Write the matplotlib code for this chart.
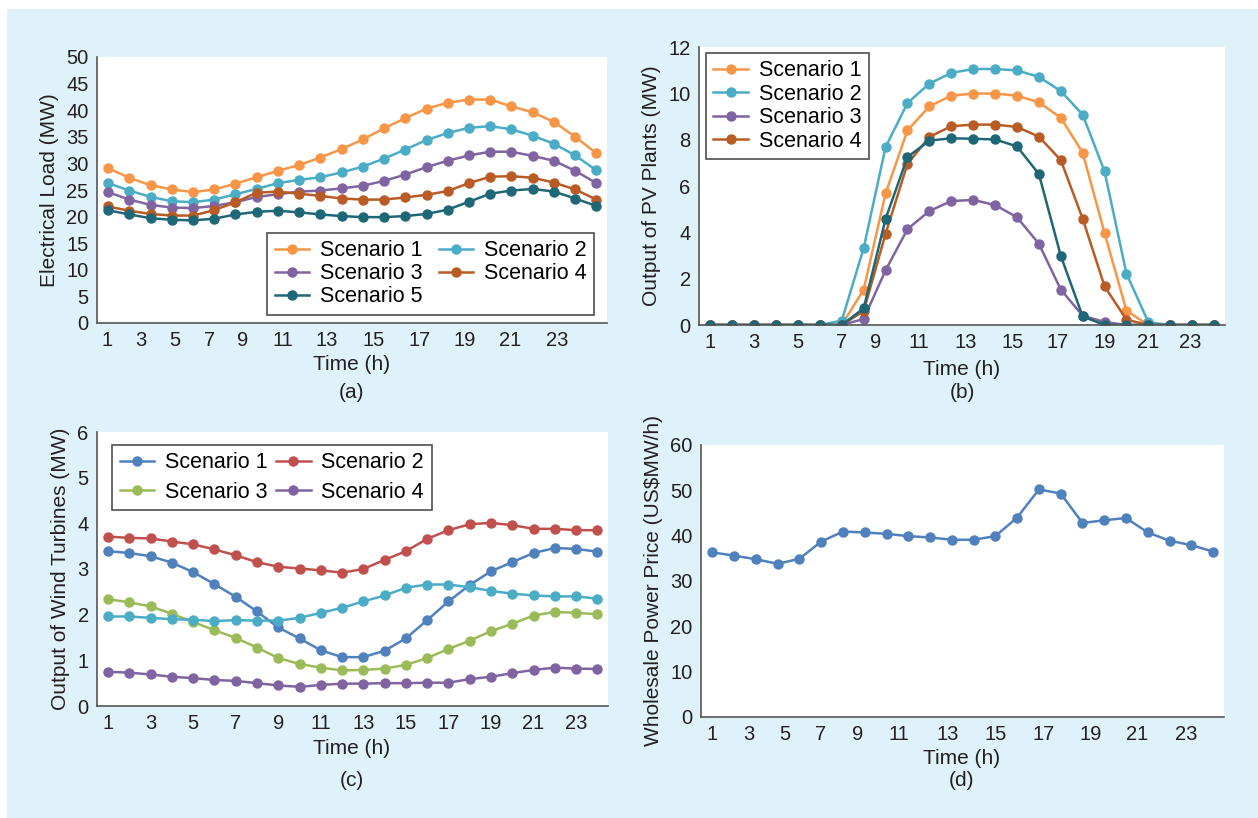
import numpy as np
import matplotlib
matplotlib.use('Agg')
import matplotlib.pyplot as plt
from matplotlib.patches import Rectangle

plt.rcParams['font.family'] = ['Liberation Sans', 'DejaVu Sans']

hours = np.arange(1, 25)

# (a) electrical load, MW
load_s1 = [29.1, 27.3, 25.9, 25.1, 24.6, 25.1, 26.2, 27.4, 28.6, 29.7, 31.1, 32.7,
           34.5, 36.6, 38.5, 40.3, 41.4, 42.0, 42.0, 40.7, 39.6, 37.8, 35.0, 31.9]
load_s2 = [26.3, 24.9, 23.7, 22.9, 22.7, 23.2, 24.2, 25.2, 26.3, 26.9, 27.4, 28.3,
           29.4, 30.9, 32.6, 34.4, 35.7, 36.7, 37.0, 36.4, 35.2, 33.7, 31.5, 28.7]
load_s3 = [24.6, 23.2, 22.2, 21.7, 21.6, 22.0, 22.7, 23.7, 24.2, 24.7, 24.9, 25.3,
           25.8, 26.7, 27.9, 29.3, 30.5, 31.5, 32.2, 32.2, 31.4, 30.5, 28.6, 26.3]
load_s4 = [21.9, 21.1, 20.5, 20.2, 20.2, 21.2, 22.7, 24.5, 24.7, 24.3, 23.9, 23.4,
           23.2, 23.2, 23.6, 24.1, 24.8, 26.3, 27.5, 27.6, 27.3, 26.4, 25.1, 23.2]
load_s5 = [21.2, 20.4, 19.7, 19.4, 19.3, 19.6, 20.4, 20.9, 21.1, 20.8, 20.4, 20.1,
           19.9, 19.9, 20.1, 20.5, 21.3, 22.8, 24.3, 24.9, 25.2, 24.7, 23.4, 22.0]

# (b) PV output, MW
pv_s1 = [0, 0, 0, 0, 0, 0, 0, 1.53, 5.68, 8.40, 9.44, 9.90,
         9.99, 9.99, 9.90, 9.61, 8.95, 7.44, 3.97, 0.62, 0, 0, 0, 0]
pv_s2 = [0, 0, 0, 0, 0, 0, 0.19, 3.32, 7.68, 9.58, 10.42, 10.88,
         11.05, 11.05, 10.99, 10.71, 10.10, 9.08, 6.63, 2.22, 0.12, 0, 0, 0]
pv_s3 = [0, 0, 0, 0, 0, 0, 0, 0.26, 2.36, 4.14, 4.92, 5.35,
         5.40, 5.18, 4.65, 3.51, 1.53, 0.40, 0.13, 0, 0, 0, 0, 0]
pv_s4 = [0, 0, 0, 0, 0, 0, 0, 0.60, 3.94, 6.95, 8.12, 8.58,
         8.65, 8.65, 8.55, 8.13, 7.12, 4.59, 1.67, 0.23, 0, 0, 0, 0]
pv_s5 = [0, 0, 0, 0, 0, 0, 0, 0.72, 4.58, 7.25, 7.96, 8.06,
         8.04, 8.01, 7.71, 6.52, 2.99, 0.37, 0, 0, 0, 0, 0, 0]

# (c) wind output, MW
wind_s1 = [3.39, 3.35, 3.28, 3.14, 2.93, 2.67, 2.39, 2.07, 1.72, 1.48, 1.22, 1.07,
           1.07, 1.21, 1.48, 1.88, 2.29, 2.65, 2.95, 3.15, 3.35, 3.46, 3.44, 3.38]
wind_s2 = [3.71, 3.68, 3.67, 3.60, 3.54, 3.43, 3.30, 3.15, 3.05, 3.01, 2.97, 2.92,
           3.00, 3.20, 3.39, 3.66, 3.85, 3.98, 4.01, 3.96, 3.88, 3.88, 3.85, 3.85]
wind_s3 = [2.34, 2.27, 2.18, 2.02, 1.84, 1.66, 1.49, 1.28, 1.05, 0.92, 0.84, 0.78,
           0.79, 0.82, 0.90, 1.05, 1.25, 1.43, 1.64, 1.80, 1.98, 2.06, 2.04, 2.01]
wind_s4 = [0.75, 0.73, 0.69, 0.64, 0.61, 0.57, 0.55, 0.50, 0.45, 0.42, 0.46, 0.49,
           0.49, 0.50, 0.50, 0.51, 0.51, 0.59, 0.64, 0.72, 0.79, 0.84, 0.82, 0.81]
wind_s5 = [1.96, 1.96, 1.93, 1.90, 1.89, 1.86, 1.88, 1.87, 1.87, 1.93, 2.04, 2.15,
           2.29, 2.42, 2.59, 2.66, 2.66, 2.60, 2.52, 2.46, 2.42, 2.40, 2.40, 2.35]

# (d) wholesale price
price = [36.3, 35.6, 34.8, 33.8, 34.9, 38.7, 40.9, 40.7, 40.4, 39.9, 39.6, 39.1,
         39.1, 39.9, 44.0, 50.2, 49.3, 42.8, 43.4, 43.9, 40.7, 38.9, 37.9, 36.5]

tick_labels = ['1', '3', '5', '7', '9', '11', '13', '15', '17', '19', '21', '23']
ticks_a = [0.95, 2.54, 4.15, 5.76, 7.35, 9.22, 11.32, 13.51, 15.69, 17.8, 19.95, 22.16]
ticks_b = [1, 3, 5, 7, 8.55, 10.5, 12.65, 14.8, 16.85, 19.0, 21.0, 22.9]
ticks_c = [1, 3, 5, 7, 9, 11, 13, 15, 17, 19, 21, 23]
ticks_d = [1.0, 2.67, 4.33, 5.99, 7.68, 9.58, 11.8, 14.0, 16.2, 18.39, 20.5, 22.77]

W, H = 1258, 818
fig = plt.figure(figsize=(W / 100, H / 100), dpi=100)
fig.patch.set_facecolor('white')
fig.patches.append(Rectangle((7 / W, 0), 1 - 7 / W, 1 - 9 / H, transform=fig.transFigure,
                             facecolor='#dff2fa', edgecolor='none', zorder=-10))

txt = '#231f20'


def make_ax(l, r, t, b):
    ax = fig.add_axes([l / W, 1 - b / H, (r - l) / W, (b - t) / H])
    ax.set_facecolor('white')
    for s in ['top', 'right']:
        ax.spines[s].set_visible(False)
    for s in ['left', 'bottom']:
        ax.spines[s].set_color('#555555')
        ax.spines[s].set_linewidth(1.2)
    ax.tick_params(length=0, labelsize=14.5, colors=txt, pad=6)
    ax.set_xlim(0.48, 24.5)
    return ax


def draw(ax, y, color, label):
    return ax.plot(hours, y, color=color, linewidth=1.8, marker='o', markersize=6.5, label=label)[0]


def finish(ax, ticks, ylabel, cx, y_time, y_tag, tag):
    ax.set_xticks(ticks)
    ax.set_xticklabels(tick_labels)
    ax.set_ylabel(ylabel, fontsize=15, color=txt, labelpad=5)
    fig.text(cx / W, 1 - y_time / H, 'Time (h)', ha='center', va='center', fontsize=15, color=txt)
    fig.text(cx / W, 1 - y_tag / H, tag, ha='center', va='center', fontsize=15, color=txt)


def legend(ax, handles, loc, anchor, ncol, spacing, colspace=0.75):
    lg = ax.legend(handles=handles, loc=loc, bbox_to_anchor=anchor, ncol=ncol,
                   fontsize=15.5, frameon=True, fancybox=False, edgecolor='#222222',
                   handlelength=1.6, handletextpad=0.5, borderpad=0.35,
                   labelspacing=spacing, columnspacing=colspace, borderaxespad=0)
    lg.get_frame().set_linewidth(1.2)


# (a)
ax = make_ax(97, 607, 57, 323)
a1 = draw(ax, load_s1, '#f79646', 'Scenario 1')
a2 = draw(ax, load_s2, '#4bacc6', 'Scenario 2')
a3 = draw(ax, load_s3, '#8064a2', 'Scenario 3')
a4 = draw(ax, load_s4, '#b95b24', 'Scenario 4')
a5 = draw(ax, load_s5, '#1e6777', 'Scenario 5')
ax.set_ylim(0, 50)
ax.set_yticks(np.arange(0, 51, 5))
finish(ax, ticks_a, 'Electrical Load (MW)', 352, 365, 393, '(a)')
legend(ax, [a1, a3, a5, a2, a4], 'lower right', (0.975, 0.03), 2, 0.1)

# (b)
ax = make_ax(699, 1225, 47, 325)
b1 = draw(ax, pv_s1, '#f79646', 'Scenario 1')
b2 = draw(ax, pv_s2, '#4bacc6', 'Scenario 2')
b3 = draw(ax, pv_s3, '#8064a2', 'Scenario 3')
b4 = draw(ax, pv_s4, '#b95b24', 'Scenario 4')
draw(ax, pv_s5, '#1e6777', 'Scenario 5')
ax.set_ylim(0, 12)
ax.set_yticks(np.arange(0, 13, 2))
finish(ax, ticks_b, 'Output of PV Plants (MW)', 962, 370, 393, '(b)')
legend(ax, [b1, b2, b3, b4], 'upper left', (0.013, 0.98), 1, 0.12)

# (c)
ax = make_ax(97, 608, 432, 706)
c1 = draw(ax, wind_s1, '#4f81bd', 'Scenario 1')
c2 = draw(ax, wind_s2, '#c0504d', 'Scenario 2')
c3 = draw(ax, wind_s3, '#9bbb59', 'Scenario 3')
c4 = draw(ax, wind_s4, '#8064a2', 'Scenario 4')
draw(ax, wind_s5, '#4bacc6', 'Scenario 5')
ax.set_ylim(0, 6)
ax.set_yticks(np.arange(0, 7, 1))
finish(ax, ticks_c, 'Output of Wind Turbines (MW)', 352, 748, 781, '(c)')
legend(ax, [c1, c3, c2, c4], 'upper left', (0.03, 0.953), 2, 0.38, colspace=0.4)

# (d)
ax = make_ax(701, 1224, 445, 717)
draw(ax, price, '#4f81bd', 'Price')
ax.set_ylim(0, 60)
ax.set_yticks(np.arange(0, 61, 10))
finish(ax, ticks_d, r'Wholesale Power Price (US\$MW/h)', 962, 759, 781, '(d)')

fig.savefig('out.png', dpi=100, facecolor=fig.get_facecolor())
